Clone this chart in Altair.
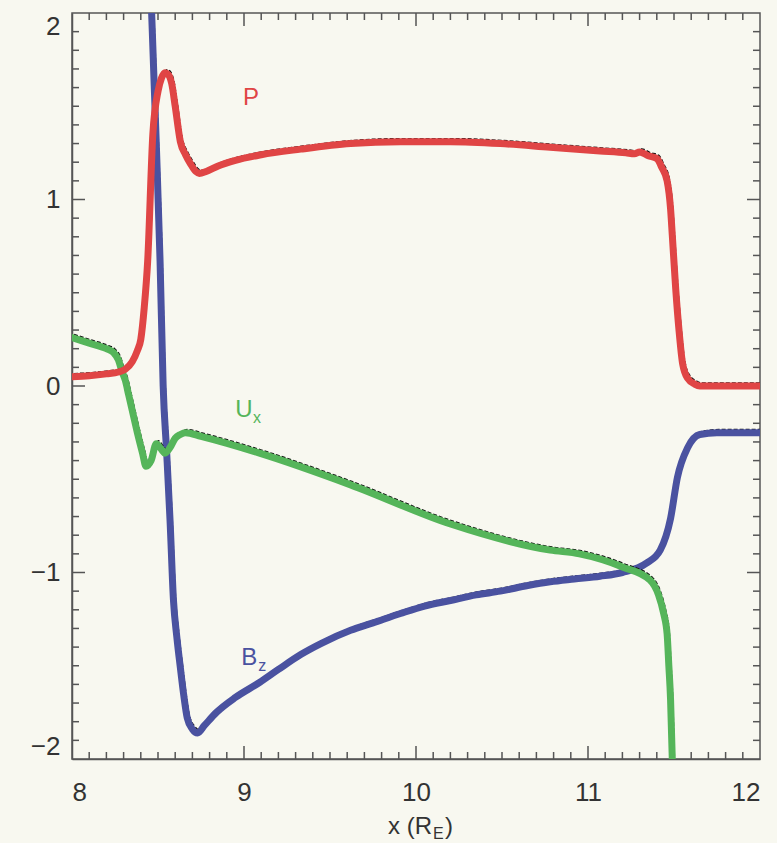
import altair as alt
import pandas as pd

# Profiles along x (R_E)
p_x = [8.00, 8.10, 8.20, 8.27, 8.31, 8.35, 8.38, 8.40, 8.42, 8.44, 8.47, 8.50, 8.52, 8.54,
       8.56, 8.58, 8.60, 8.63, 8.66, 8.69, 8.72, 8.74, 8.78, 8.85, 8.95, 9.10, 9.33, 9.62,
       9.91, 10.20, 10.49, 10.78, 11.07, 11.22, 11.27, 11.30, 11.35, 11.40, 11.43, 11.46,
       11.48, 11.49, 11.51, 11.53, 11.55, 11.58, 11.62, 11.65, 11.75, 12.00]
p_y = [0.05, 0.055, 0.065, 0.075, 0.09, 0.13, 0.19, 0.25, 0.42, 0.67, 1.35, 1.58, 1.65, 1.68,
       1.67, 1.62, 1.50, 1.31, 1.24, 1.19, 1.15, 1.14, 1.15, 1.18, 1.21, 1.24, 1.27, 1.30,
       1.31, 1.31, 1.30, 1.28, 1.26, 1.25, 1.245, 1.255, 1.235, 1.22, 1.17, 1.10,
       0.95, 0.81, 0.52, 0.29, 0.12, 0.04, 0.01, 0.0, 0.0, 0.0]

ux_x = [8.00, 8.10, 8.20, 8.24, 8.27, 8.29, 8.31, 8.33, 8.35, 8.38, 8.41, 8.43, 8.46, 8.49,
        8.52, 8.54, 8.57, 8.60, 8.63, 8.66, 8.75, 9.09, 9.62, 10.20, 10.78, 10.95, 11.20,
        11.36, 11.41, 11.44, 11.46, 11.47, 11.48, 11.49]
ux_y = [0.26, 0.23, 0.20, 0.18, 0.14, 0.08, 0.03, -0.05, -0.13, -0.25, -0.36, -0.43, -0.40,
        -0.31, -0.34, -0.36, -0.33, -0.28, -0.26, -0.25, -0.27, -0.36, -0.53, -0.74, -0.88,
        -0.90, -0.97, -1.04, -1.12, -1.22, -1.33, -1.50, -1.68, -2.0]

bz_x = [8.463, 8.49, 8.512, 8.53, 8.55, 8.57, 8.59, 8.61, 8.63, 8.65, 8.67, 8.70, 8.73,
        8.77, 8.84, 8.95, 9.09, 9.20, 9.33, 9.45, 9.62, 9.75, 9.91, 10.05, 10.20, 10.35,
        10.49, 10.65, 10.78, 10.92, 11.07, 11.20, 11.34, 11.42, 11.48, 11.52, 11.58, 11.65,
        11.75, 12.00]
bz_y = [2.0, 1.30, 0.67, 0.0, -0.35, -0.72, -1.15, -1.35, -1.51, -1.66, -1.78, -1.84, -1.86,
        -1.82, -1.75, -1.67, -1.59, -1.52, -1.44, -1.38, -1.31, -1.27, -1.22, -1.18, -1.15,
        -1.12, -1.10, -1.07, -1.05, -1.035, -1.02, -1.00, -0.95, -0.88, -0.71, -0.49, -0.33,
        -0.26, -0.25, -0.25]

x_major = [9, 10, 11]
x_minor = [round(8 + i * 0.1, 1) for i in range(1, 40) if i % 10]
y_major = [-1, 0, 1]
y_minor = [round(-2 + i * 0.1, 1) for i in range(1, 40) if i % 10]

W, H = 688, 746
BG = "#f8f8f0"
AX = "#555555"
FONT = "Liberation Sans"
RED, GREEN, BLUE = "#e04545", "#55b55a", "#4a52a0"

xs = alt.Scale(domain=[8, 12], nice=False)
ys = alt.Scale(domain=[-2, 2], nice=False)


def curve(xv, yv, color):
    df = pd.DataFrame({"x": xv, "y": yv})
    enc = dict(
        x=alt.X("x:Q", scale=xs),
        y=alt.Y("y:Q", scale=ys),
        order=alt.Order("x:Q"),
    )
    shadow = alt.Chart(df).mark_line(
        color="#111111", strokeWidth=1.6, strokeDash=[4, 2], xOffset=2, yOffset=-3,
        interpolate="monotone", clip=True
    ).encode(**enc)
    main = alt.Chart(df).mark_line(
        color=color, strokeWidth=7, strokeJoin="round", strokeCap="round",
        interpolate="monotone", clip=True
    ).encode(**enc)
    return shadow + main


base = alt.Chart(pd.DataFrame({"x": [8, 12], "y": [-2, 2]})).mark_point(opacity=0).encode(
    x=alt.X("x:Q", scale=xs,
            axis=alt.Axis(values=[8, 9, 10, 11, 12], format="d", ticks=False, grid=False,
                          labelPadding=20, labelFontSize=26, labelFont=FONT,
                          labelColor="#333333", domainColor=AX, domainWidth=1.5,
                          title=None)),
    y=alt.Y("y:Q", scale=ys,
            axis=alt.Axis(values=[-2, -1, 0, 1, 2], format="d", ticks=False, grid=False,
                          labelPadding=12, labelFontSize=26, labelFont=FONT,
                          labelColor="#333333", labelFlush=True, domainColor=AX,
                          domainWidth=1.5, title=None)),
)


def xticks(vals, length):
    df = pd.DataFrame({"t": vals})
    bottom = alt.Chart(df).mark_rule(color=AX, strokeWidth=1.5).encode(
        x=alt.X("t:Q", scale=xs), y=alt.value(H), y2=alt.value(H - length))
    top = alt.Chart(df).mark_rule(color=AX, strokeWidth=1.5).encode(
        x=alt.X("t:Q", scale=xs), y=alt.value(0), y2=alt.value(length))
    return bottom + top


def yticks(vals, length):
    df = pd.DataFrame({"t": vals})
    left = alt.Chart(df).mark_rule(color=AX, strokeWidth=1.5).encode(
        y=alt.Y("t:Q", scale=ys), x=alt.value(0), x2=alt.value(length))
    right = alt.Chart(df).mark_rule(color=AX, strokeWidth=1.5).encode(
        y=alt.Y("t:Q", scale=ys), x=alt.value(W), x2=alt.value(W - length))
    return left + right


labels = pd.DataFrame({
    "x": [9.04, 9.0, 9.03],
    "y": [1.545, -0.13, -1.46],
    "t": ["P", "U", "B"],
    "c": [RED, GREEN, BLUE],
})
subs = pd.DataFrame({
    "x": [9.0, 9.03],
    "y": [-0.13, -1.46],
    "t": ["x", "z"],
    "c": [GREEN, BLUE],
})
lab = alt.Chart(labels).mark_text(font=FONT, fontSize=24, align="center", baseline="middle").encode(
    x=alt.X("x:Q", scale=xs), y=alt.Y("y:Q", scale=ys), text="t:N",
    color=alt.Color("c:N", scale=None))
sub = alt.Chart(subs).mark_text(font=FONT, fontSize=16, align="left", baseline="middle",
                                dx=9, dy=8).encode(
    x=alt.X("x:Q", scale=xs), y=alt.Y("y:Q", scale=ys), text="t:N",
    color=alt.Color("c:N", scale=None))

title_df = pd.DataFrame({"a": [0]})
t1 = alt.Chart(title_df).mark_text(text="x (R", font=FONT, fontSize=24, align="right",
                                   baseline="middle", color="#333333").encode(
    x=alt.value(360), y=alt.value(814))
t2 = alt.Chart(title_df).mark_text(text="E", font=FONT, fontSize=16, align="left",
                                   baseline="middle", color="#333333").encode(
    x=alt.value(361), y=alt.value(821))
t3 = alt.Chart(title_df).mark_text(text=")", font=FONT, fontSize=24, align="left",
                                   baseline="middle", color="#333333").encode(
    x=alt.value(373), y=alt.value(814))

chart = alt.layer(
    base,
    xticks(x_minor, 7), xticks(x_major, 13),
    yticks(y_minor, 7), yticks(y_major, 13),
    curve(bz_x, bz_y, BLUE),
    curve(ux_x, ux_y, GREEN),
    curve(p_x, p_y, RED),
    lab, sub, t1, t2, t3,
).properties(
    width=W, height=H,
    autosize=alt.AutoSizeParams(type="none"),
    padding={"left": 72, "top": 13, "right": 17, "bottom": 84},
    background=BG,
).configure_view(stroke=AX, strokeWidth=1.5, fill=BG)

chart.save("out.html", embed_options={"renderer": "svg", "actions": False})
